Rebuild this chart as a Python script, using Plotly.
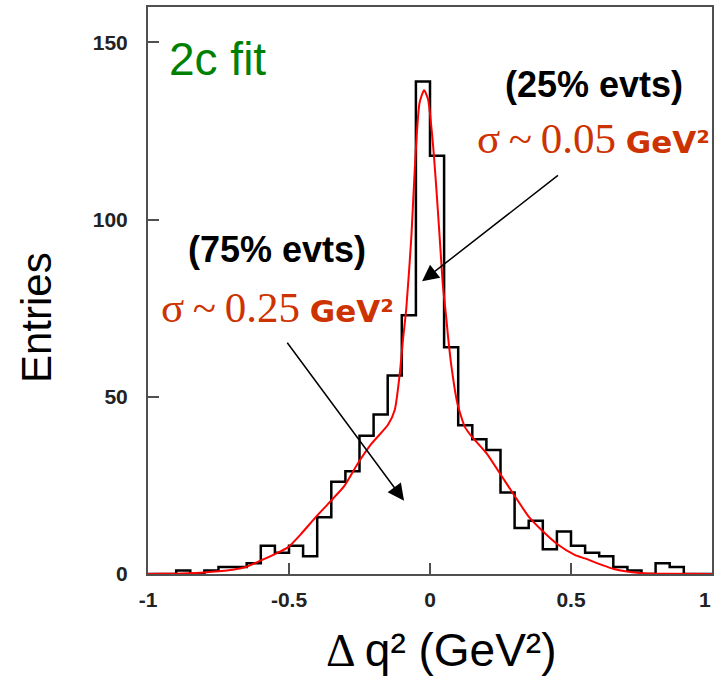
import plotly.graph_objects as go

# ---- data ----
bin_edges = [-1.0, -0.95, -0.9, -0.85, -0.8, -0.75, -0.7, -0.65, -0.6, -0.55,
             -0.5, -0.45, -0.4, -0.35, -0.3, -0.25, -0.2, -0.15, -0.1, -0.05,
             0.0, 0.05, 0.1, 0.15, 0.2, 0.25, 0.3, 0.35, 0.4, 0.45,
             0.5, 0.55, 0.6, 0.65, 0.7, 0.75, 0.8, 0.85, 0.9, 0.95, 1.0]
entries = [0, 0, 1, 0, 1, 2, 2, 3, 8, 6,
           8, 5, 16, 26, 29, 39, 45, 56, 73, 139,
           118, 64, 42, 38, 35, 23, 13, 15, 7, 12,
           8, 6, 5, 2, 1, 0, 3, 2, 0, 0]

fit_x = [-1.0, -0.95, -0.9, -0.857, -0.8, -0.762, -0.7, -0.656, -0.609, -0.556,
         -0.504, -0.455, -0.409, -0.359, -0.305, -0.255, -0.206, -0.149, -0.125,
         -0.107, -0.096, -0.084, -0.066, -0.051, -0.037, -0.021, -0.007, 0.008,
         0.022, 0.034, 0.046, 0.058, 0.064, 0.076, 0.097, 0.123, 0.146, 0.2,
         0.251, 0.298, 0.35, 0.401, 0.452, 0.513, 0.549, 0.652, 0.755, 0.85, 1.0]
fit_y = [0, 0.05, 0.1, 0.2, 0.45, 0.7, 1.2, 1.9, 3.5, 5.4,
         7.5, 11.5, 15.7, 20, 24.7, 31.3, 36.9, 42.1, 46.3,
         56.7, 66, 75, 95.3, 118.8, 133, 136.5, 134, 123.5,
         109.4, 95.3, 81.2, 72, 67, 58.6, 48.2, 41.6, 39, 34.1,
         28, 22.3, 16.2, 12, 8.4, 5.4, 4.4, 1.4, 0.2, 0.05, 0]

x_ticks = [-1, -0.5, 0, 0.5, 1]
x_tick_labels = ["-1", "-0.5", "0", "0.5", "1"]
y_ticks = [0, 50, 100, 150]
y_tick_labels = ["0", "50", "100", "150"]

ORANGE = "#CC3300"
TICKFONT = dict(family="Liberation Sans", size=21, color="#222222")

fig = go.Figure()

# histogram as step outline
fig.add_trace(go.Scatter(
    x=bin_edges, y=entries + [entries[-1]],
    mode="lines", line=dict(shape="hv", color="black", width=2.5),
    hoverinfo="skip", showlegend=False))

# fit curve
fig.add_trace(go.Scatter(
    x=fit_x, y=fit_y, mode="lines",
    line=dict(shape="spline", smoothing=0.6, color="#FF0000", width=2),
    hoverinfo="skip", showlegend=False))

axis_common = dict(
    showline=True, mirror=True, linecolor="#505050", linewidth=2,
    ticks="inside", ticklen=11, tickwidth=1.5, tickcolor="#505050",
    showgrid=False, zeroline=False, tickfont=TICKFONT,
)

fig.update_xaxes(range=[-1, 1], tickvals=x_ticks,
                 ticktext=["<b>%s</b>" % t for t in x_tick_labels],
                 ticklabelstandoff=6, **axis_common)
fig.update_yaxes(range=[0, 160], tickvals=y_ticks,
                 ticktext=["<b>%s</b>" % t for t in y_tick_labels],
                 ticklabelstandoff=14, **axis_common)

serif = "font-family:Liberation Serif;font-size:43px;font-weight:normal"
ts = "\u2009"

annotations = [
    dict(text="2c fit", x=-0.933, y=145.3, xref="x", yref="y",
         xanchor="left", yanchor="middle", showarrow=False,
         font=dict(family="Liberation Sans", size=46, color="#008000")),
    dict(text="<b>(25% evts)</b>", x=0.580, y=138.2, xref="x", yref="y",
         xanchor="center", yanchor="middle", showarrow=False,
         font=dict(family="Liberation Sans", size=36, color="black")),
    dict(text="<b>(75% evts)</b>", x=-0.541, y=91.6, xref="x", yref="y",
         xanchor="center", yanchor="middle", showarrow=False,
         font=dict(family="Liberation Sans", size=36, color="black")),
    dict(text='<span style="%s">σ%s~%s0.05</span> <b>GeV²</b>' % (serif, ts, ts),
         x=0.580, y=123, xref="x", yref="y",
         xanchor="center", yanchor="middle", showarrow=False,
         font=dict(family="DejaVu Sans", size=31, color=ORANGE)),
    dict(text='<span style="%s">σ%s~%s0.25</span> <b>GeV²</b>' % (serif, ts, ts),
         x=-0.542, y=75.2, xref="x", yref="y",
         xanchor="center", yanchor="middle", showarrow=False,
         font=dict(family="DejaVu Sans", size=31, color=ORANGE)),
    # arrows
    dict(text="", x=-0.028, y=82.6, ax=0.459, ay=112.8,
         xref="x", yref="y", axref="x", ayref="y",
         showarrow=True, arrowhead=2, arrowsize=2.2, arrowwidth=1.5,
         arrowcolor="black"),
    dict(text="", x=-0.092, y=20.7, ax=-0.510, ay=65.7,
         xref="x", yref="y", axref="x", ayref="y",
         showarrow=True, arrowhead=2, arrowsize=2.2, arrowwidth=1.5,
         arrowcolor="black"),
    # right-most x tick label (sits at the window edge in the reference)
    dict(text="<b>1</b>", x=1, y=0, xref="x", yref="paper",
         xanchor="right", yanchor="top", yshift=-12, xshift=1, showarrow=False,
         font=TICKFONT),
    # axis titles
    dict(text="Entries", x=-0.198, y=0.452, xref="paper", yref="paper",
         xanchor="center", yanchor="middle", textangle=-90, showarrow=False,
         font=dict(family="Liberation Sans", size=42, color="black")),
    dict(text='<span style="font-family:Liberation Serif">Δ</span>%sq² (GeV²)' % ts,
         x=0.519, y=-0.134, xref="paper", yref="paper",
         xanchor="center", yanchor="middle", showarrow=False,
         font=dict(family="Liberation Sans", size=46, color="black")),
]

fig.update_layout(
    width=716, height=677,
    margin=dict(l=148, r=2, t=7, b=103),
    paper_bgcolor="white", plot_bgcolor="white",
    annotations=annotations,
    showlegend=False,
)

fig.write_html("out.html")
